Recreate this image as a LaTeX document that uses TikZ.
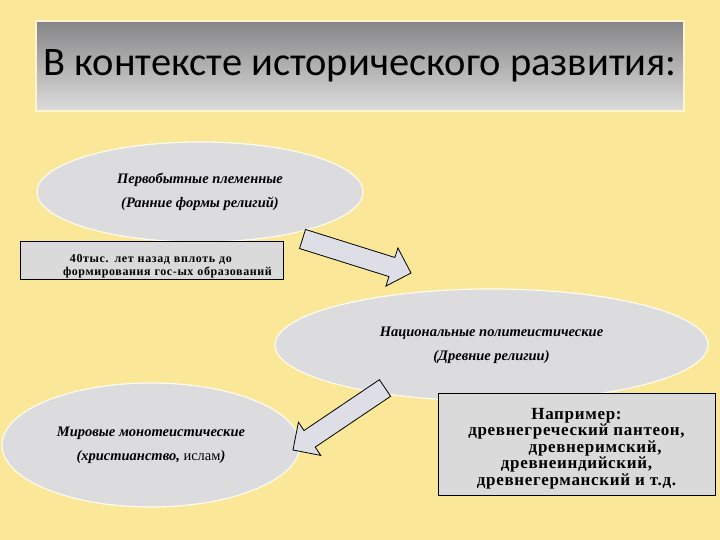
\documentclass[tikz,border=0pt]{standalone}
\usepackage{fontspec}
\usepackage{xcolor}
\usepackage{tikz}
\usetikzlibrary{calc,positioning,shapes.geometric}
\setmainfont{Liberation Serif}
\newfontfamily\titlefont{Carlito}
\definecolor{bgYellow}{RGB}{250,231,151}
\definecolor{ovalGray}{RGB}{220,220,222}
\definecolor{boxGray}{RGB}{218,218,218}
\definecolor{titleTop}{RGB}{134,134,136}
\definecolor{titleBottom}{RGB}{220,220,220}
\definecolor{arrowGray}{RGB}{222,222,230}

% block arrow from tail (#1) to tip (#2)
\newcommand{\blockarrow}[2]{%
    \coordinate (hb) at ($(#2)!20pt!(#1)$);
    \draw[blockarr]
        ($(#1)!10pt!90:(#2)$) -- ($(hb)!10pt!90:(#2)$) -- ($(hb)!20pt!90:(#2)$)
        -- (#2)
        -- ($(hb)!20pt!-90:(#2)$) -- ($(hb)!10pt!-90:(#2)$) -- ($(#1)!10pt!-90:(#2)$)
        -- cycle;
}

\begin{document}
\begin{tikzpicture}[x=1pt,y=-1pt,
    oval/.style={ellipse, fill=ovalGray, draw=white!85!bgYellow, line width=1.2pt,
        inner sep=0pt, align=center,
        font=\fontsize{14.5}{24}\selectfont\bfseries\itshape},
    infobox/.style={rectangle, fill=boxGray, draw=black, line width=0.8pt,
        font=\fontsize{12}{13}\selectfont\bfseries\addfontfeatures{LetterSpace=5}},
    blockarr/.style={fill=arrowGray, draw=black, line width=0.8pt, line join=miter}]
    \useasboundingbox[fill=bgYellow] (0,0) rectangle (720,540);

    % title
    \node[top color=titleTop, bottom color=titleBottom, draw=white!55!bgYellow,
        line width=1.5pt, minimum width=648pt, minimum height=90pt, inner sep=0pt,
        font=\titlefont\fontsize{40.5}{40.5}\selectfont] (title) at (360,66)
        {В контексте исторического развития:};

    % stages
    \node[oval, minimum width=326pt, minimum height=100pt] (prim) at (200,192)
        {Первобытные племенные\\(Ранние формы религий)};
    \node[oval, minimum width=433pt, minimum height=112pt] (nat) at (491.5,345)
        {Национальные политеистические\\(Древние религии)};
    \node[oval, minimum width=298pt, minimum height=124pt] (world) at (151,445)
        {Мировые монотеистические\\(христианство, {\upshape\mdseries ислам})};

    % notes
    \node[infobox, minimum width=263pt, minimum height=38pt, text width=250pt,
        inner xsep=0pt, inner ysep=0pt, align=left] (primnote) at (151.5,260)
        {\rule{0pt}{20pt}\hspace*{43.5pt}40тыс. лет назад вплоть до\\
         \hspace*{36.5pt}формирования гос-ых образований};
    \node[infobox, minimum width=277pt, minimum height=102pt, align=center,
        font=\fontsize{17}{16.5}\selectfont\bfseries\addfontfeatures{LetterSpace=4}]
        (natnote) at (576.5,444)
        {\rule{0pt}{20pt}Например:\\древнегреческий пантеон,\\\hspace*{2.2em}древнеримский,\\
         древнеиндийский,\\древнегерманский и т.д.};

    % arrows
    \coordinate (aTail) at (302.5,239);
    \coordinate (aTip) at (411,273);
    \coordinate (bTail) at (385,388);
    \coordinate (bTip) at (293,450);
    \blockarrow{aTail}{aTip}
    \blockarrow{bTail}{bTip}
\end{tikzpicture}
\end{document}
